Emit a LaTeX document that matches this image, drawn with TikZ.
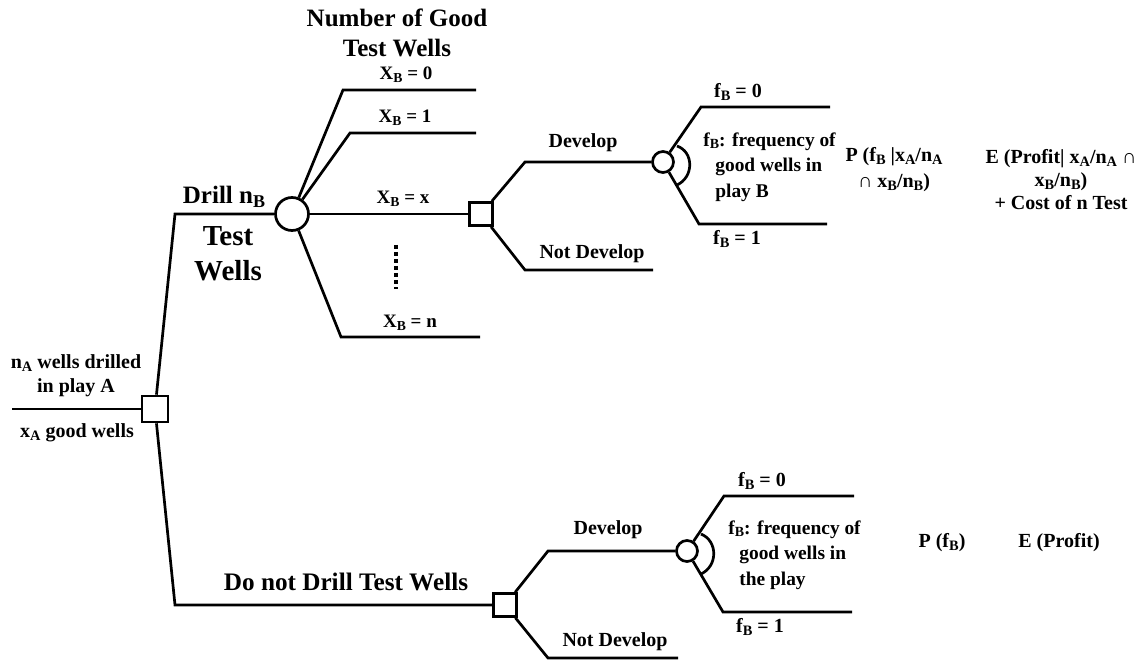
\documentclass[tikz,border=0pt]{standalone}
\usepackage{fontspec}
\setmainfont{Liberation Serif}
\newcommand\lsub[1]{\raisebox{-0.3ex}{\scalebox{0.72}{#1}}}
\newcommand\fs[2]{\fontsize{#1}{#2}\selectfont\bfseries}
\begin{document}
\begin{tikzpicture}[x=0.5pt,y=-0.5pt,line width=1.35pt,line join=miter,
  decision/.style={draw,fill=white,rectangle,inner sep=0pt,minimum size=#1},
  decision/.default=11.5pt,
  chance/.style={draw,fill=white,circle,inner sep=0pt,minimum size=#1},
  chance/.default=10.5pt,
  lbl/.style={inner sep=0pt,font=\fs{10pt}{12pt}},
  xlbl/.style={inner sep=0pt,font=\fs{9.5pt}{11pt}},
  head/.style={inner sep=0pt,font=\fs{12.5pt}{15pt},align=center},
  note/.style={inner sep=0pt,font=\fs{9.7pt}{12pt},align=left},
  block/.style={inner sep=0pt,font=\fs{10pt}{12pt},align=center}]
\useasboundingbox (0,0) rectangle (1143,662);

% ---------- decision and chance nodes ----------
\node[decision=13pt] (root) at (155,409) {};
\node[chance=16.5pt] (test) at (292,214) {};
\node[decision] (dx) at (481,214) {};
\node[chance] (dev) at (663,162) {};
\node[decision] (nd) at (505,605) {};
\node[chance] (dev2) at (687,551) {};

% ---------- bend points and free ends ----------
\coordinate (start) at (12,409);
\coordinate (up) at (175,214);
\coordinate (down) at (175,605);
\coordinate (x0k) at (343,90);  \coordinate (x0e) at (476,90);
\coordinate (x1k) at (350,133); \coordinate (x1e) at (476,133);
\coordinate (xnk) at (341,337); \coordinate (xne) at (480,337);
\coordinate (dk) at (525,162);
\coordinate (ndk) at (525,270); \coordinate (nde) at (653,270);
\coordinate (f0k) at (701,107); \coordinate (f0e) at (830,107);
\coordinate (f1k) at (699,224); \coordinate (f1e) at (827,224);
\coordinate (dk2) at (548,551);
\coordinate (ndk2) at (548,658); \coordinate (nde2) at (678,658);
\coordinate (g0k) at (724,496); \coordinate (g0e) at (854,496);
\coordinate (g1k) at (723,612); \coordinate (g1e) at (852,612);
\coordinate (dtop) at (396,245); \coordinate (dbot) at (396,289);

% ---------- connectors ----------
\draw (start) -- (root);
\draw (root) -- (up) -- (test);
\draw (root) -- (down) -- (nd);
\draw (test) -- (x0k) -- (x0e);
\draw (test) -- (x1k) -- (x1e);
\draw (test) -- (dx);
\draw (test) -- (xnk) -- (xne);
\draw[line width=2.2pt,dash pattern=on 2pt off 1.5pt] (dtop) -- (dbot);
\draw (dx) -- (dk) -- (dev);
\draw (dx) -- (ndk) -- (nde);
\draw (dev) -- (f0k) -- (f0e);
\draw (dev) -- (f1k) -- (f1e);
\draw (677,146) .. controls (694,152) and (694,177) .. (677,185);
\draw (nd) -- (dk2) -- (dev2);
\draw (nd) -- (ndk2) -- (nde2);
\draw (dev2) -- (g0k) -- (g0e);
\draw (dev2) -- (g1k) -- (g1e);
\draw (701,534) .. controls (718,541) and (718,566) .. (701,574);

% ---------- labels ----------
\node[block] (playA) at (76,376) {n\lsub{A} wells drilled\\in play A};
\node[lbl] (goodA) at (77,433) {x\lsub{A} good wells};

\node[head] (drill) at (224,197) {Drill n\lsub{B}};
\node[inner sep=0pt,font=\fs{14.5pt}{17.5pt},align=center] (tw) at (228,254) {Test\\Wells};
\node[head] (numgood) at (397,33) {Number of Good\\Test Wells};

\node[xlbl] (lx0) at (406,75) {X\lsub{B} = 0};
\node[xlbl] (lx1) at (405,118) {X\lsub{B} = 1};
\node[xlbl] (lxx) at (403,199) {X\lsub{B} = x};
\node[xlbl] (lxn) at (410,323) {X\lsub{B} = n};

\node[lbl] (ldev) at (583,143) {Develop};
\node[lbl] (lnd) at (592,254) {Not Develop};
\node[lbl] (lf0) at (738,92) {f\lsub{B} = 0};
\node[lbl] (lf1) at (737,239) {f\lsub{B} = 1};
\node[note,anchor=west] (freq) at (714,167) {\hspace*{-6pt}f\lsub{B}: frequency of\\[0.75pt]good wells in\\[0.75pt]play B};
\node[block] (prob) at (894,170) {P (f\lsub{B} |x\lsub{A}/n\lsub{A}\\[1pt]∩ x\lsub{B}/n\lsub{B})};
\node[block] (exp) at (1061,180) {E (Profit| x\lsub{A}/n\lsub{A} ∩\\[-0.5pt]x\lsub{B}/n\lsub{B})\\[-0.5pt]+ Cost of n Test};

\node[inner sep=0pt,font=\fs{12.6pt}{15pt}] (nodrill) at (346,582) {Do not Drill Test Wells};
\node[lbl] (ldev2) at (608,530) {Develop};
\node[lbl] (lnd2) at (615,642) {Not Develop};
\node[lbl] (lg0) at (762,481) {f\lsub{B} = 0};
\node[lbl] (lg1) at (760,627) {f\lsub{B} = 1};
\node[note,anchor=west] (freq2) at (738,555) {\hspace*{-5.5pt}f\lsub{B}: frequency of\\[0.75pt]good wells in\\[0.75pt]the play};
\node[lbl] (prob2) at (942,543) {P (f\lsub{B})};
\node[lbl] (exp2) at (1059,543) {E (Profit)};
\end{tikzpicture}
\end{document}
